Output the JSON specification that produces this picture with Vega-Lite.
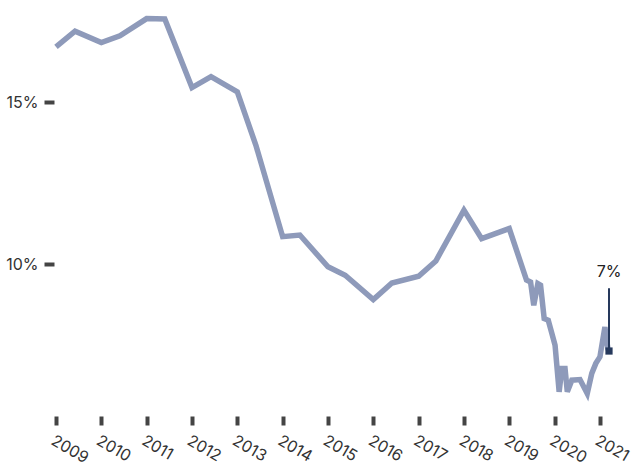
{
  "$schema": "https://vega.github.io/schema/vega-lite/v6.json",
  "autosize": {"type": "none"},
  "padding": {"left": 56, "top": 5, "right": 25, "bottom": 54},
  "width": 553,
  "height": 405,
  "config": {
    "view": {"stroke": null},
    "font": "Inter",
    "axis": {"labelFont": "Inter", "labelColor": "#333333", "labelFontSize": 16, "grid": false, "domain": false, "tickColor": "#444444", "tickWidth": 4, "tickCap": "butt"}
  },
  "datasets": {
    "series": [
      {"t": 2009.0, "v": 16.71},
      {"t": 2009.42, "v": 17.19},
      {"t": 2010.0, "v": 16.84},
      {"t": 2010.41, "v": 17.05},
      {"t": 2011.0, "v": 17.58},
      {"t": 2011.4, "v": 17.57},
      {"t": 2012.0, "v": 15.45},
      {"t": 2012.42, "v": 15.79},
      {"t": 2013.0, "v": 15.32},
      {"t": 2013.41, "v": 13.67},
      {"t": 2014.0, "v": 10.85},
      {"t": 2014.38, "v": 10.9},
      {"t": 2015.0, "v": 9.92},
      {"t": 2015.38, "v": 9.66},
      {"t": 2016.0, "v": 8.91},
      {"t": 2016.41, "v": 9.42},
      {"t": 2017.0, "v": 9.63},
      {"t": 2017.38, "v": 10.1},
      {"t": 2018.0, "v": 11.67},
      {"t": 2018.39, "v": 10.79},
      {"t": 2019.0, "v": 11.1},
      {"t": 2019.38, "v": 9.51},
      {"t": 2019.47, "v": 9.45},
      {"t": 2019.54, "v": 8.73},
      {"t": 2019.63, "v": 9.4},
      {"t": 2019.69, "v": 9.35},
      {"t": 2019.77, "v": 8.32},
      {"t": 2019.86, "v": 8.27},
      {"t": 2019.94, "v": 7.86},
      {"t": 2020.01, "v": 7.5},
      {"t": 2020.1, "v": 6.06},
      {"t": 2020.16, "v": 6.78},
      {"t": 2020.23, "v": 6.78},
      {"t": 2020.28, "v": 6.06},
      {"t": 2020.38, "v": 6.42},
      {"t": 2020.56, "v": 6.44},
      {"t": 2020.72, "v": 6.01},
      {"t": 2020.82, "v": 6.63},
      {"t": 2020.91, "v": 6.94},
      {"t": 2021.0, "v": 7.14},
      {"t": 2021.11, "v": 8.06},
      {"t": 2021.18, "v": 7.35}
    ],
    "last": [
      {"t": 2021.2, "v": 7.32, "label": "7%"}
    ]
  },
  "layer": [
    {
      "data": {"name": "series"},
      "mark": {"type": "line", "color": "#8e9aba", "strokeWidth": 5.5, "strokeJoin": "miter", "strokeCap": "butt"},
      "encoding": {
        "x": {"field": "t", "type": "quantitative", "scale": {"domain": [2009, 2021.2], "nice": false, "zero": false},
          "axis": {"title": null, "values": [2009, 2010, 2011, 2012, 2013, 2014, 2015, 2016, 2017, 2018, 2019, 2020, 2021], "format": "d", "offset": 6, "tickSize": 9, "labelAngle": 30, "labelAlign": "left", "labelBaseline": "top", "labelPadding": 7, "labelFlush": false, "labelOverlap": false}},
        "y": {"field": "v", "type": "quantitative", "scale": {"domain": [5.5, 18], "nice": false, "zero": false},
          "axis": {"title": null, "values": [10, 15], "labelExpr": "datum.value + '%'", "offset": 2, "tickSize": 10, "labelPadding": 6}}
      }
    },
    {
      "data": {"name": "last"},
      "mark": {"type": "rule", "color": "#26395c", "strokeWidth": 2},
      "encoding": {
        "x": {"field": "t", "type": "quantitative"},
        "y": {"field": "v", "type": "quantitative"},
        "y2": {"datum": 9.26}
      }
    },
    {
      "data": {"name": "last"},
      "mark": {"type": "point", "shape": "square", "filled": true, "opacity": 1, "size": 52, "color": "#26395c"},
      "encoding": {
        "x": {"field": "t", "type": "quantitative"},
        "y": {"field": "v", "type": "quantitative"}
      }
    },
    {
      "data": {"name": "last"},
      "mark": {"type": "text", "fontSize": 16, "color": "#222222", "align": "center", "baseline": "alphabetic", "dy": -11},
      "encoding": {
        "x": {"field": "t", "type": "quantitative"},
        "y": {"datum": 9.26},
        "text": {"field": "label"}
      }
    }
  ]
}
